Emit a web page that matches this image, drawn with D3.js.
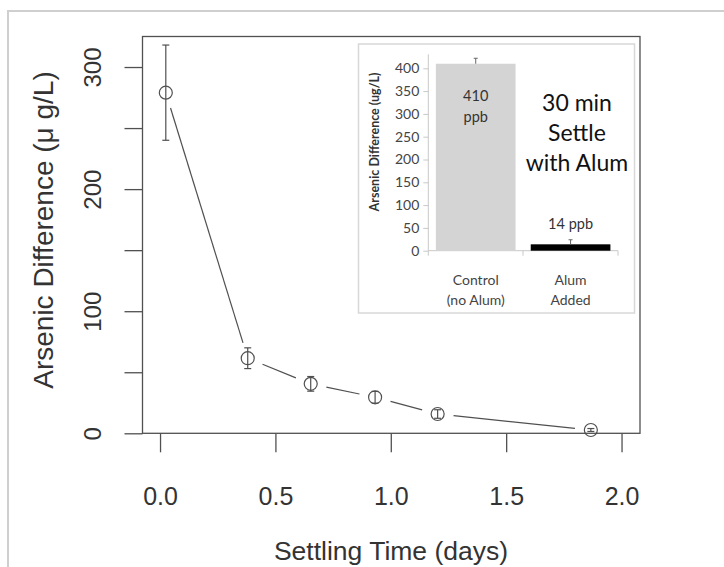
<!DOCTYPE html>
<html>
<head>
<meta charset="utf-8">
<script src="https://cdn.jsdelivr.net/npm/d3@7"></script>
<style>
  body { margin: 0; background: #fff; }
  svg { display: block; }
</style>
</head>
<body>
<div class="chart"></div>
<script>
// main plot: settling time series
var days = [0.025, 0.38, 0.653, 0.932, 1.203, 1.867];
var arsenic = [279, 61.5, 40.5, 29.5, 15.8, 2.7];
var arsenicErr = [39, 8.5, 6, 4.8, 3.5, 1.2];
var xTicks = [0, 0.5, 1.0, 1.5, 2.0];
var yTicks = [0, 50, 100, 150, 200, 250, 300];
var yLabels = [0, 100, 200, 300];

// inset bar chart
var groups = ["Control|(no Alum)", "Alum|Added"];
var groupValues = [410, 14];
var groupErr = [12, 10];
var groupText = ["410|ppb", "14 ppb"];
var insetTicks = [0, 50, 100, 150, 200, 250, 300, 350, 400];

var W = 724, H = 567;
var svg = d3.select(".chart").append("svg")
    .attr("width", W)
    .attr("height", H);

svg.append("rect").attr("width", W).attr("height", H).attr("fill", "#fff");

// light frame round the picture
svg.append("rect")
    .attr("x", 8).attr("y", 11)
    .attr("width", 740).attr("height", 580)
    .attr("fill", "none")
    .attr("stroke", "#cfcfcf")
    .attr("stroke-width", 2);

var ink = "#505050";
var pL = 142.5, pR = 640, pT = 36.5, pB = 433.3;

var x = d3.scaleLinear().domain([-0.076, 2.08]).range([pL, pR]);
var y = d3.scaleLinear().domain([0, 325]).range([pB, pT]);

var g = svg.append("g").attr("id", "main");

g.append("rect")
    .attr("x", pL).attr("y", pT)
    .attr("width", pR - pL).attr("height", pB - pT)
    .attr("fill", "none").attr("stroke", ink).attr("stroke-width", 1.3);

var yAxis = g.append("g")
    .attr("transform", "translate(" + pL + ",0)")
    .call(d3.axisLeft(y).tickValues(yTicks).tickSize(18)
        .tickFormat(d => yLabels.includes(d) ? d : ""));
yAxis.select(".domain").remove();
yAxis.selectAll(".tick line").attr("stroke", ink).attr("stroke-width", 1.3);
yAxis.selectAll(".tick text")
    .attr("transform", "rotate(-90)")
    .attr("x", 0).attr("y", -50).attr("dy", "0.36em")
    .attr("text-anchor", "middle")
    .style("font-family", "'Liberation Sans', Arial, sans-serif")
    .style("font-size", "24px")
    .attr("fill", "#333");

var xAxis = g.append("g")
    .attr("transform", "translate(0," + pB + ")")
    .call(d3.axisBottom(x).tickValues(xTicks).tickSize(19).tickFormat(d3.format(".1f")));
xAxis.select(".domain").remove();
xAxis.selectAll(".tick line").attr("stroke", ink).attr("stroke-width", 1.3);
xAxis.selectAll(".tick text")
    .attr("y", 63).attr("dy", "0.36em")
    .style("font-family", "'Liberation Sans', Arial, sans-serif")
    .style("font-size", "25px")
    .attr("fill", "#333");

g.append("text")
    .attr("transform", "translate(43,230) rotate(-90)")
    .attr("text-anchor", "middle")
    .attr("dy", "0.36em")
    .style("font-family", "'Liberation Sans', Arial, sans-serif")
    .style("font-size", "28px")
    .attr("fill", "#333")
    .text("Arsenic Difference (\u03bc g/L)");

g.append("text")
    .attr("x", 391).attr("y", 550)
    .attr("text-anchor", "middle")
    .attr("dy", "0.36em")
    .style("font-family", "'Liberation Sans', Arial, sans-serif")
    .style("font-size", "26.5px")
    .attr("fill", "#333")
    .text("Settling Time (days)");

// R type="b" style: segments with gaps round the points
var pts = days.map((d, i) => ({ px: x(d), py: y(arsenic[i]), v: arsenic[i], e: arsenicErr[i], t: d }));
var gap = 16;
var segs = [];
for (var i = 0; i < pts.length - 1; i++) {
    var a = pts[i], b = pts[i + 1];
    var dx = b.px - a.px, dy = b.py - a.py;
    var len = Math.sqrt(dx * dx + dy * dy);
    if (len > 2 * gap) {
        segs.push({
            x1: a.px + dx / len * gap, y1: a.py + dy / len * gap,
            x2: b.px - dx / len * gap, y2: b.py - dy / len * gap
        });
    }
}
g.selectAll("line.seg").data(segs).enter().append("line")
    .attr("class", "seg")
    .attr("x1", d => d.x1).attr("y1", d => d.y1)
    .attr("x2", d => d.x2).attr("y2", d => d.y2)
    .attr("stroke", ink).attr("stroke-width", 1.2);

var eb = g.selectAll("g.err").data(pts).enter().append("g").attr("class", "err")
    .attr("stroke", ink).attr("stroke-width", 1.2);
eb.append("line")
    .attr("x1", d => d.px).attr("x2", d => d.px)
    .attr("y1", d => y(d.v + d.e)).attr("y2", d => y(d.v - d.e));
eb.append("line")
    .attr("x1", d => d.px - 3.5).attr("x2", d => d.px + 3.5)
    .attr("y1", d => y(d.v + d.e)).attr("y2", d => y(d.v + d.e));
eb.append("line")
    .attr("x1", d => d.px - 3.5).attr("x2", d => d.px + 3.5)
    .attr("y1", d => y(d.v - d.e)).attr("y2", d => y(d.v - d.e));

g.selectAll("circle.pt").data(pts).enter().append("circle")
    .attr("class", "pt")
    .attr("cx", d => d.px).attr("cy", d => d.py)
    .attr("r", 6.5)
    .attr("fill", "none")
    .attr("stroke", ink).attr("stroke-width", 1.2);

// ---- inset ----
var inset = svg.append("g").attr("id", "inset");
inset.append("rect")
    .attr("x", 358.5).attr("y", 44)
    .attr("width", 276).attr("height", 269)
    .attr("fill", "#fff")
    .attr("stroke", "#d8d8d8").attr("stroke-width", 1.5);

var insetFont = "Lato, 'Open Sans', sans-serif";
var bx = d3.scaleBand().domain(groups).range([428.3, 618]).paddingInner(0.16).paddingOuter(0.08);
var by = d3.scaleLinear().domain([0, 400]).range([250.7, 68.3]);

var iy = inset.append("g")
    .attr("transform", "translate(428.3,0)")
    .call(d3.axisLeft(by).tickValues(insetTicks).tickSize(5).tickPadding(4));
iy.select(".domain").attr("stroke", "#c8c8c8").attr("d", "M0," + by(0) + "V" + (by(400) - 14));
iy.selectAll(".tick line").attr("stroke", "#c8c8c8");
iy.selectAll(".tick text")
    .style("font-family", insetFont)
    .style("font-size", "14px")
    .attr("fill", "#444");

var ix = inset.append("g")
    .attr("transform", "translate(0," + by(0) + ")")
    .call(d3.axisBottom(bx).tickSize(0).tickFormat(""));
ix.select(".domain").attr("stroke", "#c8c8c8").attr("d", "M428.3,0H618");
ix.selectAll(".tick").remove();
ix.selectAll("line.div").data([428.3, 523, 618]).enter().append("line")
    .attr("class", "div")
    .attr("x1", d => d).attr("x2", d => d)
    .attr("y1", 0).attr("y2", 5)
    .attr("stroke", "#c8c8c8");

inset.selectAll("rect.bar").data(groups).enter().append("rect")
    .attr("class", "bar")
    .attr("x", d => bx(d))
    .attr("width", bx.bandwidth())
    .attr("y", (d, i) => by(groupValues[i]))
    .attr("height", (d, i) => by(0) - by(groupValues[i]))
    .attr("fill", (d, i) => i === 0 ? "#d4d4d4" : "#000");

var ie = inset.selectAll("g.ierr").data(groups).enter().append("g")
    .attr("class", "ierr")
    .attr("stroke", "#666").attr("stroke-width", 1);
ie.append("line")
    .attr("x1", d => bx(d) + bx.bandwidth() / 2).attr("x2", d => bx(d) + bx.bandwidth() / 2)
    .attr("y1", (d, i) => by(groupValues[i] + groupErr[i]))
    .attr("y2", (d, i) => by(groupValues[i]));
ie.append("line")
    .attr("x1", d => bx(d) + bx.bandwidth() / 2 - 2).attr("x2", d => bx(d) + bx.bandwidth() / 2 + 2)
    .attr("y1", (d, i) => by(groupValues[i] + groupErr[i]))
    .attr("y2", (d, i) => by(groupValues[i] + groupErr[i]));

// category labels, two lines each
groups.forEach(function (d, i) {
    var t = inset.append("text")
        .attr("x", bx(d) + bx.bandwidth() / 2)
        .attr("y", 285)
        .attr("text-anchor", "middle")
        .style("font-family", insetFont)
        .style("font-size", "14px")
        .attr("fill", "#444");
    d.split("|").forEach(function (s, k) {
        t.append("tspan").attr("x", bx(d) + bx.bandwidth() / 2).attr("dy", k ? 20 : 0).text(s);
    });
});

// value labels
var v0 = inset.append("text")
    .attr("x", bx(groups[0]) + bx.bandwidth() / 2)
    .attr("y", 101)
    .attr("text-anchor", "middle")
    .style("font-family", insetFont)
    .style("font-size", "14.5px")
    .attr("fill", "#333");
groupText[0].split("|").forEach(function (s, k) {
    v0.append("tspan").attr("x", bx(groups[0]) + bx.bandwidth() / 2).attr("dy", k ? 21 : 0).text(s);
});
inset.append("text")
    .attr("x", bx(groups[1]) + bx.bandwidth() / 2)
    .attr("y", 229)
    .attr("text-anchor", "middle")
    .style("font-family", insetFont)
    .style("font-size", "14.5px")
    .attr("fill", "#333")
    .text(groupText[1]);

inset.append("text")
    .attr("transform", "translate(374,142) rotate(-90)")
    .attr("text-anchor", "middle")
    .attr("dy", "0.36em")
    .style("font-family", insetFont)
    .style("font-size", "12.5px")
    .style("font-weight", "bold")
    .attr("fill", "#333")
    .text("Arsenic Difference (ug/L)");

var note = inset.append("text")
    .attr("x", 577).attr("y", 111)
    .attr("text-anchor", "middle")
    .style("font-family", insetFont)
    .style("font-size", "23px")
    .attr("fill", "#111");
["30 min", "Settle", "with Alum"].forEach(function (s, k) {
    note.append("tspan").attr("x", 577).attr("dy", k ? 30 : 0).text(s);
});
</script>
</body>
</html>
